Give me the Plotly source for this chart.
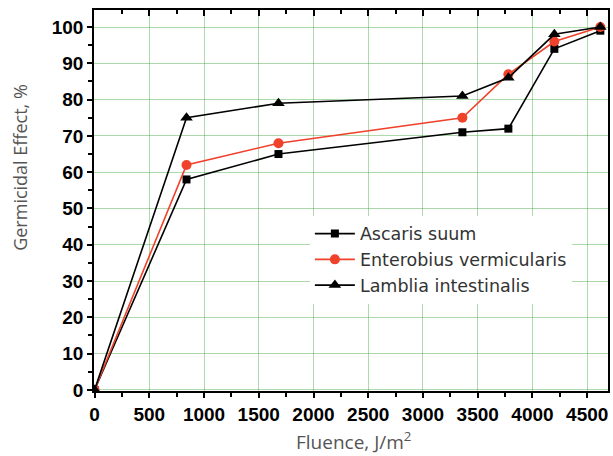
import plotly.graph_objects as go

fluence = [0, 840, 1680, 3360, 3780, 4200, 4620]
ascaris = [0, 58, 65, 71, 72, 94, 99]
enterobius = [0, 62, 68, 75, 87, 96, 100]
lamblia = [0, 75, 79, 81, 86, 98, 100]

names = ["Ascaris suum", "Enterobius vermicularis", "Lamblia intestinalis"]
x_ticks = list(range(0, 5000, 500))
y_ticks = list(range(0, 101, 10))
x_title = "Fluence, J/m<sup>2</sup>"
y_title = "Germicidal Effect, %"

RED = "#f0412b"
GRID = "rgba(60,165,60,0.42)"

fig = go.Figure()
fig.add_trace(go.Scatter(x=fluence, y=ascaris, name=names[0], mode="lines+markers",
                         line=dict(color="black", width=1.6),
                         marker=dict(symbol="square", size=8, color="black")))
fig.add_trace(go.Scatter(x=fluence, y=enterobius, name=names[1], mode="lines+markers",
                         line=dict(color=RED, width=1.6),
                         marker=dict(symbol="circle", size=10, color=RED)))
fig.add_trace(go.Scatter(x=fluence, y=lamblia, name=names[2], mode="lines+markers",
                         line=dict(color="black", width=1.6),
                         marker=dict(symbol="triangle-up", size=11, color="black")))
# invisible trace for top axis ticks
fig.add_trace(go.Scatter(x=[fluence[0]], y=[ascaris[0]], xaxis="x2", mode="markers",
                         marker=dict(opacity=0), showlegend=False, hoverinfo="skip"))

tickfont = dict(family="Liberation Sans", size=19, color="black", weight="bold")
fig.update_layout(
    width=613, height=456,
    margin=dict(l=94, r=3, t=10, b=65),
    paper_bgcolor="white", plot_bgcolor="white",
    showlegend=True,
    legend=dict(x=0.42, y=0.46, xanchor="left", yanchor="top",
                bgcolor="white", borderwidth=0,
                font=dict(family="DejaVu Sans", size=17.5, color="#333333"),
                tracegroupgap=0, itemwidth=40),
    xaxis=dict(range=[-5, 4690], tickvals=x_ticks, ticktext=[str(v) for v in x_ticks],
               showgrid=True, gridcolor=GRID, gridwidth=1,
               showline=True, linecolor="black", linewidth=1.5, mirror=True,
               ticks="outside", ticklen=5, tickwidth=1.5, tickcolor="black",
               minor=dict(dtick=250, tick0=0, ticks="outside", ticklen=4, tickcolor="black", showgrid=False),
               tickfont=tickfont, zeroline=False),
    xaxis2=dict(overlaying="x", side="top", range=[-5, 4690], tickvals=x_ticks,
                showticklabels=False, showgrid=False, ticks="inside", ticklen=6,
                tickwidth=1.5, tickcolor="black", showline=False, zeroline=False,
                minor=dict(dtick=250, tick0=0, ticks="inside", ticklen=4, tickcolor="black", showgrid=False)),
    yaxis=dict(range=[-0.3, 104.7], tickvals=y_ticks, ticktext=[str(v) for v in y_ticks],
               showgrid=True, gridcolor=GRID, gridwidth=1,
               showline=True, linecolor="black", linewidth=1.5, mirror=True,
               ticks="outside", ticklen=5, tickwidth=1.5, tickcolor="black",
               minor=dict(dtick=5, tick0=0, ticks="outside", ticklen=4, tickcolor="black", showgrid=False),
               tickfont=tickfont, zeroline=False),
    annotations=[
        dict(text=x_title, xref="paper", yref="paper", x=0.5058, y=-0.131,
             xanchor="center", yanchor="middle", showarrow=False,
             font=dict(family="Open Sans", size=19, color="#555555")),
        dict(text=y_title, xref="paper", yref="paper", x=-0.1453, y=0.5866,
             xanchor="center", yanchor="middle", showarrow=False, textangle=-90,
             font=dict(family="Open Sans", size=18, color="#555555")),
    ],
)

fig.write_html("out.html")
